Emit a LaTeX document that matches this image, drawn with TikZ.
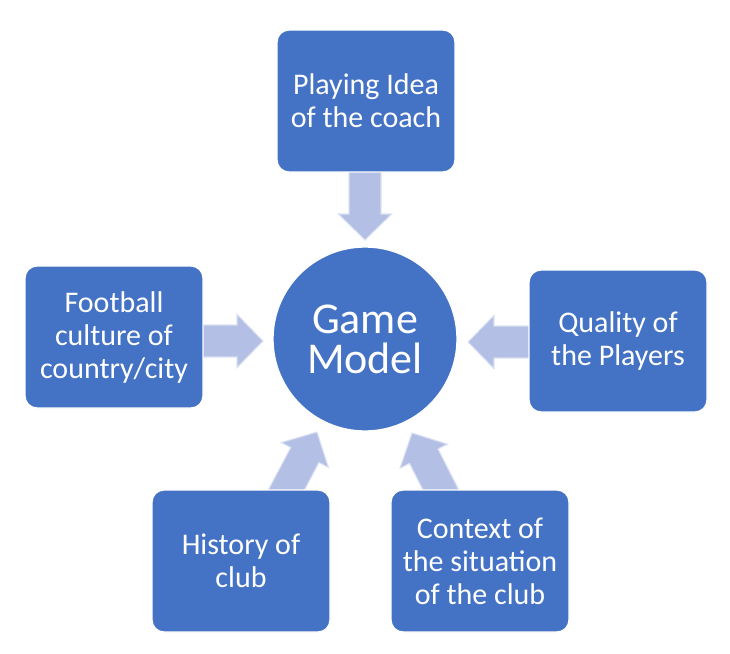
\documentclass[tikz,border=0pt]{standalone}
\usepackage{fontspec}
\setmainfont{Carlito}
\usetikzlibrary{calc}
\definecolor{boxblue}{HTML}{4472C4}
\definecolor{arrowblue}{HTML}{B3BFE4}
\definecolor{arrowedge}{HTML}{DCE2F3}
\tikzset{
  factor/.style={draw=white, line width=1pt, fill=boxblue, rounded corners=9pt,
    minimum width=133.5pt, minimum height=106.5pt, text=white, align=center,
    font=\fontsize{22.5}{24.75}\selectfont, inner sep=0pt},
  core/.style={circle, draw=white, line width=1pt, fill=boxblue, minimum size=138pt,
    text=white, align=center, font=\fontsize{33}{30}\selectfont, inner sep=0pt},
  barrow/.style={fill=arrowblue, draw=arrowedge, line width=0.8pt, line join=miter}
}
\newcommand\blockarr[3]{%
  \coordinate (#3hb) at ($(#2)!19.5pt!(#1)$);
  \draw[barrow] ($(#1)!12pt!90:(#2)$) -- ($(#3hb)!12pt!90:(#2)$) -- ($(#3hb)!20pt!90:(#2)$)
    -- (#2) -- ($(#3hb)!20pt!-90:(#2)$) -- ($(#3hb)!12pt!-90:(#2)$) -- ($(#1)!12pt!-90:(#2)$) -- cycle;
}
\begin{document}
\begin{tikzpicture}[x=0.75pt, y=-0.75pt]
\useasboundingbox (0,0) rectangle (730,653);
% anchor points of the block arrows
\coordinate (sTop) at (365,168);
\coordinate (tTop) at (365,240);
\coordinate (sLeft) at (198,341);
\coordinate (tLeft) at (263,341);
\coordinate (sRight) at (533,342);
\coordinate (tRight) at (468,342);
\coordinate (sBL) at (280,502);
\coordinate (tBL) at (317,432);
\coordinate (sBR) at (447,502);
\coordinate (tBR) at (412,433);
\blockarr{sTop}{tTop}{aT}
\blockarr{sLeft}{tLeft}{aL}
\blockarr{sRight}{tRight}{aR}
\blockarr{sBL}{tBL}{aBL}
\blockarr{sBR}{tBR}{aBR}
% nodes
\node[core] (gm) at (365,339) {Game\\Model};
\node[factor] (coach) at (366,101) {Playing Idea\\of the coach};
\node[factor] (culture) at (114,337) {Football\\culture of\\country/city};
\node[factor] (players) at (618,341) {Quality of\\the Players};
\node[factor] (history) at (241,561) {History of\\club};
\node[factor] (context) at (480,561) {Context of\\the situation\\of the club};
\end{tikzpicture}
\end{document}
